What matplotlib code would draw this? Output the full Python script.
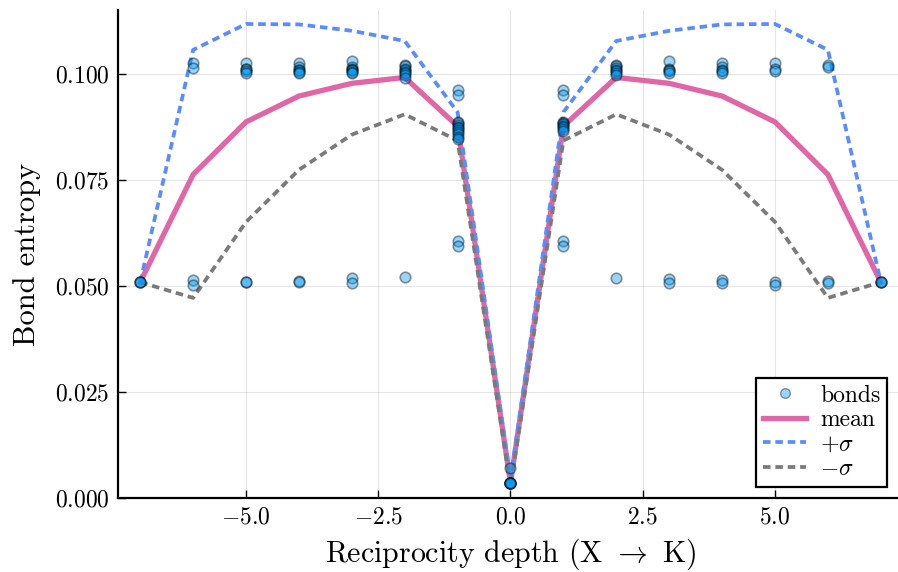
import matplotlib
matplotlib.use("Agg")
import matplotlib.pyplot as plt
from matplotlib.ticker import FuncFormatter, MultipleLocator
from matplotlib.lines import Line2D

plt.rcParams["font.family"] = "serif"
plt.rcParams["font.serif"] = ["cmr10", "DejaVu Serif"]
plt.rcParams["mathtext.fontset"] = "cm"
plt.rcParams["axes.formatter.use_mathtext"] = True

# depth grid and summary curves
depth = [-7, -6, -5, -4, -3, -2, -1, 0, 1, 2, 3, 4, 5, 6, 7]
mean_s = [0.0509, 0.0763, 0.0887, 0.0948, 0.0978, 0.0992, 0.0877, 0.0036,
          0.0877, 0.0992, 0.0978, 0.0948, 0.0887, 0.0763, 0.0509]
plus_s = [0.0509, 0.1057, 0.1118, 0.1117, 0.1102, 0.1078, 0.0910, 0.0045,
          0.0910, 0.1078, 0.1102, 0.1117, 0.1118, 0.1057, 0.0509]
minus_s = [0.0509, 0.0472, 0.0651, 0.0774, 0.0857, 0.0905, 0.0843, 0.0027,
           0.0843, 0.0905, 0.0857, 0.0774, 0.0651, 0.0472, 0.0509]

# individual bonds (depth, entropy)
bond_depth = ([-7] * 3 + [-6] * 4 + [-5] * 7 + [-4] * 8 + [-3] * 9 + [-2] * 9
              + [-1] * 14 + [0] * 7 + [1] * 11 + [2] * 8 + [3] * 7 + [4] * 7
              + [5] * 5 + [6] * 4 + [7] * 3)
bond_entropy = (
    [0.0509, 0.0509, 0.0509]
    + [0.1025, 0.1014, 0.0514, 0.0502]
    + [0.1025, 0.1011, 0.1011, 0.1008, 0.1002, 0.0510, 0.0510]
    + [0.1025, 0.1016, 0.1009, 0.1009, 0.1005, 0.1002, 0.0512, 0.0509]
    + [0.1031, 0.1017, 0.1012, 0.1009, 0.1009, 0.1005, 0.1002, 0.0518, 0.0508]
    + [0.1021, 0.1018, 0.1012, 0.1009, 0.1005, 0.1002, 0.0998, 0.0990, 0.0522]
    + [0.0962, 0.0950, 0.0888, 0.0884, 0.0880, 0.0876, 0.0872, 0.0868,
       0.0864, 0.0858, 0.0852, 0.0846, 0.0605, 0.0594]
    + [0.0071, 0.0035, 0.0035, 0.0035, 0.0035, 0.0035, 0.0035]
    + [0.0962, 0.0950, 0.0888, 0.0885, 0.0882, 0.0878, 0.0874, 0.0870,
       0.0866, 0.0605, 0.0594]
    + [0.1021, 0.1018, 0.1014, 0.1010, 0.1006, 0.1002, 0.0998, 0.0519]
    + [0.1031, 0.1012, 0.1009, 0.1006, 0.1003, 0.0516, 0.0508]
    + [0.1025, 0.1016, 0.1010, 0.1006, 0.1003, 0.0513, 0.0508]
    + [0.1025, 0.1011, 0.1008, 0.0510, 0.0503]
    + [0.1022, 0.1016, 0.0512, 0.0506]
    + [0.0509, 0.0509, 0.0509]
)

PINK = "#e066a5"
BLUE = "#5b8cff"
GREY = "#7a7a7a"
DOT = "#009afa"
DASH = (0, (2.0, 1.3))

fig = plt.figure(figsize=(8.98, 5.72), dpi=100)
ax = fig.add_axes([118 / 898, 74 / 572, 785 / 898, 488 / 572])

ax.plot(depth, mean_s, color=PINK, lw=3.8, solid_joinstyle="miter", zorder=2)
ax.plot(depth, plus_s, color=BLUE, lw=2.7, ls=DASH, zorder=2)
ax.plot(depth, minus_s, color=GREY, lw=2.7, ls=DASH, zorder=2)
ax.scatter(bond_depth, bond_entropy, s=58, facecolor=DOT, edgecolor="black",
           linewidths=1.2, alpha=0.4, zorder=3)

ax.set_xlim(-7.42, 7.42)
ax.set_ylim(0, 0.1151)
ax.xaxis.set_major_locator(MultipleLocator(2.5))
ax.yaxis.set_major_locator(MultipleLocator(0.025))
ax.xaxis.set_major_formatter(FuncFormatter(lambda v, p: f"${v:.1f}$"))
ax.yaxis.set_major_formatter(FuncFormatter(lambda v, p: f"${v:.3f}$"))
ax.grid(True, color="black", alpha=0.1, lw=0.8)
ax.set_axisbelow(True)
for s in ["top", "right"]:
    ax.spines[s].set_visible(False)
for s in ["left", "bottom"]:
    ax.spines[s].set_linewidth(1.6)
ax.tick_params(direction="in", length=6, width=1.0, labelsize=17, pad=6)

ax.set_xlabel(r"Reciprocity depth (X $\rightarrow$ K)", fontsize=21.5, labelpad=6)
ax.set_ylabel("Bond entropy", fontsize=22, labelpad=10)

handles = [
    Line2D([], [], ls="", marker="o", markersize=7, markerfacecolor=DOT,
           markeredgecolor="black", markeredgewidth=1.0, alpha=0.4),
    Line2D([], [], color=PINK, lw=3.8),
    Line2D([], [], color=BLUE, lw=2.7, ls=DASH),
    Line2D([], [], color=GREY, lw=2.7, ls=DASH),
]
labels = ["bonds", "mean", r"$+\sigma$", r"$-\sigma$"]
leg = ax.legend(handles, labels, loc="lower right", bbox_to_anchor=(0.98, 0.022),
                borderaxespad=0, fontsize=17, fancybox=False, framealpha=1,
                edgecolor="black", handlelength=1.8, handletextpad=0.6,
                labelspacing=0.1, borderpad=0.3)
leg.get_frame().set_linewidth(1.6)

fig.savefig("out.png", dpi=100)
